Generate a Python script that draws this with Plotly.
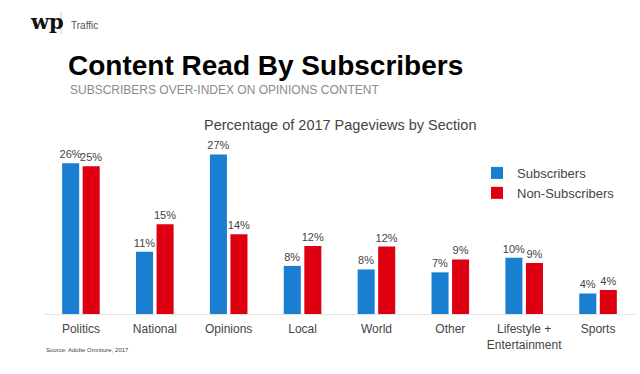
import plotly.graph_objects as go

sections = ["Politics", "National", "Opinions", "Local", "World", "Other",
            "Lifestyle +<br>Entertainment", "Sports"]
subscribers = [25.7, 10.6, 27.2, 8.2, 7.6, 7.1, 9.6, 3.5]
non_subscribers = [25.2, 15.3, 13.6, 11.6, 11.5, 9.3, 8.7, 4.1]
series_names = ["Subscribers", "Non-Subscribers"]

BLUE = "#1a7fd0"
RED = "#de0010"
W, H = 640, 374
L, R, T, B = 44, 5, 138, 60
PW, PH = W - L - R, H - T - B


def px(x):
    return (x - L) / PW


def py(y):
    return (H - B - y) / PH


fig = go.Figure()
for name, vals, col in [(series_names[0], subscribers, BLUE),
                        (series_names[1], non_subscribers, RED)]:
    fig.add_trace(go.Bar(
        x=sections, y=vals, name=name, marker_color=col,
        marker_line_width=0,
        texttemplate="%{y:.0f}%", textposition="outside",
        constraintext="none",
        textfont=dict(size=11, color="#444", family="Liberation Sans"),
        cliponaxis=False,
    ))

fig.update_layout(
    width=W, height=H,
    margin=dict(l=L, r=R, t=T, b=B),
    paper_bgcolor="white", plot_bgcolor="white",
    barmode="group", bargap=0.444, bargroupgap=0.17,
    font=dict(family="Liberation Sans", color="#444"),
    showlegend=True,
    legend=dict(x=px(477), y=py(158), xanchor="left", yanchor="top",
                font=dict(size=13, color="#444"), bgcolor="rgba(0,0,0,0)",
                tracegroupgap=0),
    xaxis=dict(showgrid=False, showline=True, linecolor="#e3e3e3", linewidth=1,
               ticks="", ticklabelstandoff=4,
               tickfont=dict(size=12, color="#444")),
    yaxis=dict(range=[0, 30], visible=False, showgrid=False),
)

ann = [
    dict(x=px(28), y=py(21), text="<b>wp</b>", xanchor="left", yanchor="middle",
         font=dict(size=21, family="DejaVu Serif", color="#111")),
    dict(x=px(69), y=py(25), text="Traffic", xanchor="left", yanchor="middle",
         font=dict(size=10, color="#555")),
    dict(x=px(66), y=py(65), text="<b>Content Read By Subscribers</b>",
         xanchor="left", yanchor="middle",
         font=dict(size=28, color="#000")),
    dict(x=px(68), y=py(90), text="SUBSCRIBERS OVER-INDEX ON OPINIONS CONTENT",
         xanchor="left", yanchor="middle",
         font=dict(size=12, color="#8a8a8a")),
    dict(x=px(340), y=py(125), text="Percentage of 2017 Pageviews by Section",
         xanchor="center", yanchor="middle",
         font=dict(size=14.5, color="#444")),
    dict(x=px(44), y=py(350), text="Source: Adobe Omniture, 2017",
         xanchor="left", yanchor="middle",
         font=dict(size=6, color="#444")),
]
for a in ann:
    a.update(xref="paper", yref="paper", showarrow=False)
fig.update_layout(annotations=ann)
fig.add_shape(type="line", xref="paper", yref="paper",
              x0=px(61), x1=px(61), y0=py(12), y1=py(34),
              line=dict(color="#cccccc", width=1))

fig.write_html("out.html", config={"displayModeBar": False},
               post_script="document.body.style.margin='0';")
